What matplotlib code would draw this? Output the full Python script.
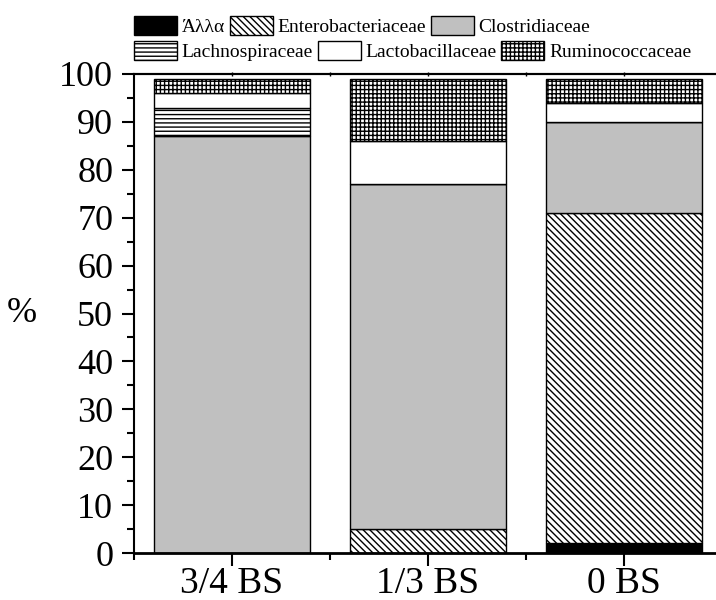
import numpy as np
import matplotlib.pyplot as plt
from matplotlib.ticker import MultipleLocator, FixedLocator

# Данные
cats = ['3/4 BS', '1/3 BS', '0 BS']
alla = [0, 0, 2]
entero = [0, 5, 69]
clostri = [87, 72, 19]
lachno = [6, 0, 0]
lacto = [3, 9, 4]
rumino = [3, 13, 5]

names = ['Άλλα', 'Enterobacteriaceae', 'Clostridiaceae',
         'Lachnospiraceae', 'Lactobacillaceae', 'Ruminococcaceae']
series = [alla, entero, clostri, lachno, lacto, rumino]
colors = ['black', 'white', '#c0c0c0', 'white', 'white', 'white']
bs = chr(92)
hatches = [None, bs * 5, None, '-' * 4, None, '+' * 4]

plt.rcParams['font.family'] = ['Liberation Serif', 'DejaVu Serif']
plt.rcParams['hatch.linewidth'] = 1.0

fig = plt.figure(figsize=(7.16, 6.0), dpi=100)
ax = fig.add_axes([134 / 716, 1 - 553 / 600, 1 - 134 / 716, (553 - 74) / 600])

x = np.arange(len(cats))
bottom = np.zeros(len(cats))
handles = []
for vals, name, c, h in zip(series, names, colors, hatches):
    b = ax.bar(x, vals, 0.8, bottom=bottom, color=c, edgecolor='black',
               linewidth=1.0, hatch=h, label=name)
    handles.append(b)
    bottom += np.array(vals)

ax.set_xlim(-0.5, 2.47)
ax.set_ylim(0, 100)
ax.set_xticks(x)
ax.set_xticklabels(cats)
ax.xaxis.set_minor_locator(FixedLocator([-0.5, 0.5, 1.5, 2.5]))
ax.yaxis.set_major_locator(MultipleLocator(10))
ax.yaxis.set_minor_locator(MultipleLocator(5))

ax.spines['right'].set_visible(False)
ax.spines['left'].set_linewidth(1.5)
ax.spines['bottom'].set_linewidth(2.0)
ax.spines['top'].set_linewidth(1.5)
ax.tick_params(axis='y', which='major', labelsize=26, length=9, width=1.5, pad=6)
ax.tick_params(axis='x', which='major', labelsize=27, length=9, width=1.5, pad=1)
ax.tick_params(axis='both', which='minor', length=5, width=1.5)

# мелкие засечки сверху
top = ax.secondary_xaxis('top')
top.set_xticks(x)
top.set_xticklabels([])
top.xaxis.set_minor_locator(FixedLocator([0.5, 1.5]))
top.tick_params(which='both', direction='inout', length=3, width=1.0)
top.spines['top'].set_linewidth(1.5)

ax.set_ylabel('%', rotation=0, fontsize=26, va='center', ha='center')
ax.yaxis.set_label_coords((22 - 134) / 582, 0.5)

# легенда в две строки
leg_kw = dict(frameon=False, ncol=3, fontsize=14, handlelength=2.2,
              handleheight=1.1, handletextpad=0.25, columnspacing=0.25,
              borderpad=0, borderaxespad=0, loc='center left')
fig.legend(handles[:3], names[:3], bbox_to_anchor=(134 / 716, 1 - 26 / 600), **leg_kw)
fig.legend(handles[3:], names[3:], bbox_to_anchor=(134 / 716, 1 - 51 / 600), **leg_kw)

fig.savefig('out.png', dpi=100)
